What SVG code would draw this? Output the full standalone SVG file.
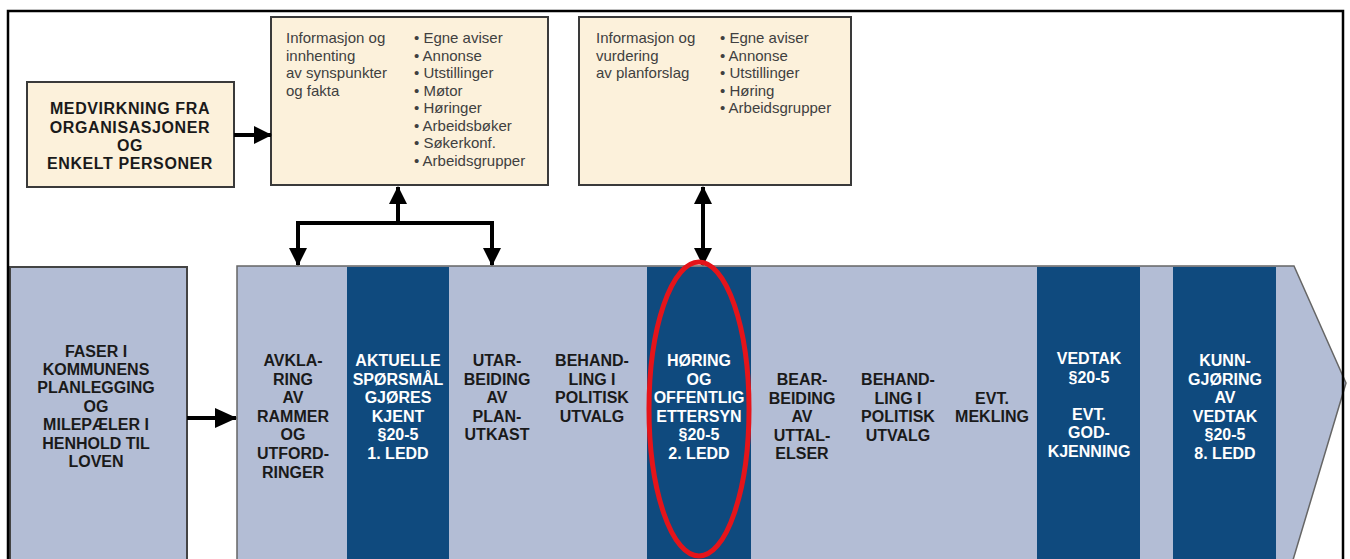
<svg xmlns="http://www.w3.org/2000/svg" width="1350" height="559" viewBox="0 0 1350 559">
<defs>
<marker id="ah" viewBox="0 0 18 18" refX="17" refY="9" markerWidth="18" markerHeight="18" markerUnits="userSpaceOnUse" orient="auto-start-reverse"><path d="M0,0 L18,9 L0,18 Z" fill="#000"/></marker>
<marker id="ahb" viewBox="0 0 22 20" refX="21" refY="10" markerWidth="22" markerHeight="20" markerUnits="userSpaceOnUse" orient="auto"><path d="M0,0 L22,10 L0,20 Z" fill="#000"/></marker>
</defs>
<style>
.cream{fill:#fcf1db;stroke:#3a3a3a;stroke-width:2}
.lb{fill:#b3bdd5}
.dark{fill:#0f4a7e}
.hd{font-family:"Liberation Sans",Arial,sans-serif;font-weight:bold;font-size:16px;text-anchor:middle;fill:#1a1a1a}
.wt{fill:#ffffff}
.sm{font-family:"Liberation Sans",Arial,sans-serif;font-size:15px;fill:#404040}
.conn{stroke:#000;stroke-width:4;fill:none}
</style>
<rect width="1350" height="559" fill="#fff"/>

<g id="phase-band">
<polygon points="237,266 1294,266 1346,383 1293,560 237,560" class="lb" stroke="#666" stroke-width="1.5"/>
</g>

<g id="faser">
<rect x="10" y="267" width="177" height="300" class="lb" stroke="#444" stroke-width="2"/>
<text class="hd"><tspan x="96" y="357">FASER I</tspan><tspan x="96" y="375">KOMMUNENS</tspan><tspan x="96" y="393">PLANLEGGING</tspan><tspan x="96" y="412">OG</tspan><tspan x="96" y="430">MILEPÆLER I</tspan><tspan x="96" y="449">HENHOLD TIL</tspan><tspan x="96" y="467">LOVEN</tspan></text>
</g>

<g id="medvirkning">
<rect x="27" y="82" width="207" height="105" class="cream"/>
<text class="hd" style="letter-spacing:0.6px"><tspan x="130" y="113.5">MEDVIRKNING FRA</tspan><tspan x="130" y="132.5">ORGANISASJONER</tspan><tspan x="130" y="150.5">OG</tspan><tspan x="130" y="168.5">ENKELT PERSONER</tspan></text>
</g>

<g id="info-innhenting">
<rect x="271" y="17" width="277" height="168" class="cream"/>
<text class="sm"><tspan x="286" y="43">Informasjon og</tspan><tspan x="286" y="60.5">innhenting</tspan><tspan x="286" y="78">av synspunkter</tspan><tspan x="286" y="95.5">og fakta</tspan></text>
<text class="sm"><tspan x="414" y="43">• Egne aviser</tspan><tspan x="414" y="60.5">• Annonse</tspan><tspan x="414" y="78">• Utstillinger</tspan><tspan x="414" y="95.5">• Møtor</tspan><tspan x="414" y="113">• Høringer</tspan><tspan x="414" y="130.5">• Arbeidsbøker</tspan><tspan x="414" y="148">• Søkerkonf.</tspan><tspan x="414" y="165.5">• Arbeidsgrupper</tspan></text>
</g>

<g id="info-vurdering">
<rect x="579" y="17" width="272" height="168" class="cream"/>
<text class="sm"><tspan x="596" y="43">Informasjon og</tspan><tspan x="596" y="60.5">vurdering</tspan><tspan x="596" y="78">av planforslag</tspan></text>
<text class="sm"><tspan x="720" y="43">• Egne aviser</tspan><tspan x="720" y="60.5">• Annonse</tspan><tspan x="720" y="78">• Utstillinger</tspan><tspan x="720" y="95.5">• Høring</tspan><tspan x="720" y="113">• Arbeidsgrupper</tspan></text>
</g>

<g id="avklaring">
<text class="hd"><tspan x="293" y="366">AVKLA-</tspan><tspan x="293" y="385">RING</tspan><tspan x="293" y="403">AV</tspan><tspan x="293" y="422">RAMMER</tspan><tspan x="293" y="440">OG</tspan><tspan x="293" y="459">UTFORD-</tspan><tspan x="293" y="478">RINGER</tspan></text>
</g>

<g id="aktuelle">
<rect x="347" y="267" width="102" height="293" class="dark"/>
<text class="hd wt"><tspan x="398" y="366">AKTUELLE</tspan><tspan x="398" y="385">SPØRSMÅL</tspan><tspan x="398" y="403">GJØRES</tspan><tspan x="398" y="422">KJENT</tspan><tspan x="398" y="440">§20-5</tspan><tspan x="398" y="459">1. LEDD</tspan></text>
</g>

<g id="utarbeiding">
<text class="hd"><tspan x="497" y="366">UTAR-</tspan><tspan x="497" y="385">BEIDING</tspan><tspan x="497" y="403">AV</tspan><tspan x="497" y="422">PLAN-</tspan><tspan x="497" y="440">UTKAST</tspan></text>
</g>

<g id="behandling-1">
<text class="hd"><tspan x="592" y="366">BEHAND-</tspan><tspan x="592" y="385">LING I</tspan><tspan x="592" y="403">POLITISK</tspan><tspan x="592" y="422">UTVALG</tspan></text>
</g>

<g id="horing">
<rect x="647" y="267" width="104" height="293" class="dark"/>
<text class="hd wt"><tspan x="699" y="366">HØRING</tspan><tspan x="699" y="385">OG</tspan><tspan x="699" y="403">OFFENTLIG</tspan><tspan x="699" y="422">ETTERSYN</tspan><tspan x="699" y="440">§20-5</tspan><tspan x="699" y="459">2. LEDD</tspan></text>
</g>

<g id="bearbeiding">
<text class="hd"><tspan x="802" y="385">BEAR-</tspan><tspan x="802" y="404">BEIDING</tspan><tspan x="802" y="422">AV</tspan><tspan x="802" y="441">UTTAL-</tspan><tspan x="802" y="459">ELSER</tspan></text>
</g>

<g id="behandling-2">
<text class="hd"><tspan x="898" y="385">BEHAND-</tspan><tspan x="898" y="404">LING I</tspan><tspan x="898" y="422">POLITISK</tspan><tspan x="898" y="441">UTVALG</tspan></text>
</g>

<g id="mekling">
<text class="hd"><tspan x="992" y="404">EVT.</tspan><tspan x="992" y="422">MEKLING</tspan></text>
</g>

<g id="vedtak">
<rect x="1037" y="267" width="103" height="293" class="dark"/>
<text class="hd wt"><tspan x="1089" y="364">VEDTAK</tspan><tspan x="1089" y="383">§20-5</tspan><tspan x="1089" y="420">EVT.</tspan><tspan x="1089" y="438">GOD-</tspan><tspan x="1089" y="457">KJENNING</tspan></text>
</g>

<g id="kunngjoring">
<rect x="1173" y="267" width="103" height="293" class="dark"/>
<text class="hd wt"><tspan x="1225" y="366">KUNN-</tspan><tspan x="1225" y="385">GJØRING</tspan><tspan x="1225" y="403">AV</tspan><tspan x="1225" y="422">VEDTAK</tspan><tspan x="1225" y="440">§20-5</tspan><tspan x="1225" y="459">8. LEDD</tspan></text>
</g>

<g id="connectors">
<line x1="234" y1="135" x2="271" y2="135" class="conn" marker-end="url(#ah)"/>
<line x1="398" y1="224" x2="398" y2="187" class="conn" marker-end="url(#ah)"/>
<path d="M298,265 V223 H492 V265" class="conn" marker-start="url(#ah)" marker-end="url(#ah)"/>
<line x1="703" y1="265" x2="703" y2="187" class="conn" marker-start="url(#ah)" marker-end="url(#ah)"/>
<line x1="187" y1="418" x2="236" y2="418" class="conn" stroke-width="5.5" marker-end="url(#ahb)"/>
</g>

<ellipse cx="699" cy="409" rx="50" ry="147" fill="none" stroke="#e5141a" stroke-width="5"/>

<rect x="8" y="11" width="1335" height="560" fill="none" stroke="#000" stroke-width="2.5"/>
</svg>
